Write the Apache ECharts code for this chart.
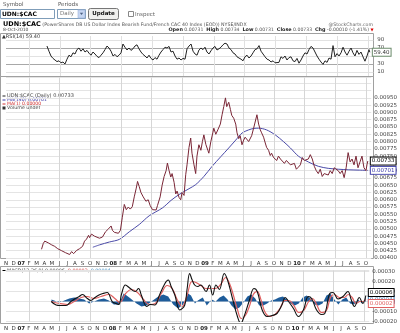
<!DOCTYPE html>
<html><head><meta charset="utf-8">
<script src="https://cdn.jsdelivr.net/npm/echarts@6/dist/echarts.min.js"></script>
<style>html,body{margin:0;padding:0;background:#fff}#c{width:400px;height:333px}</style>
</head><body><div id="c"></div>
<script>
// month index 0 = Nov 2006
const monthLabels = ['N','D','07','F','M','A','M','J','J','A','S','O','N','D','08','F','M','A','M','J','J','A','S','O','N','D','09','F','M','A','M','J','J','A','S','O','N','D','10','F','M','A','M','J','J','A','S','O'];
const gridMonths = [3,7,11,15,19,23,27,31,35,39,43,47];
const priceTicks = [0.004, 0.0095, 0.00025];
const macdTicks = [-0.0002, 0.0003, 0.0001];
const rsiLevels = [10,30,50,70,90];

const priceData = [[4.64,0.00430],[4.87,0.00450],[5.06,0.00458],[5.32,0.00464],[5.52,0.00452],[5.97,0.00445],[6.36,0.00440],[6.75,0.00432],[7.27,0.00425],[7.79,0.00418],[8.31,0.00412],[8.57,0.00422],[8.83,0.00415],[9.22,0.00426],[9.61,0.00432],[10.00,0.00440],[10.26,0.00458],[10.52,0.00465],[10.78,0.00478],[10.91,0.00470],[11.17,0.00482],[11.56,0.00475],[11.82,0.00480],[12.21,0.00468],[12.60,0.00472],[12.99,0.00490],[13.38,0.00500],[13.73,0.00510],[13.90,0.00495],[14.16,0.00488],[14.42,0.00492],[14.68,0.00485],[14.94,0.00495],[15.19,0.00540],[15.45,0.00584],[15.71,0.00566],[15.97,0.00575],[16.23,0.00568],[16.49,0.00576],[16.75,0.00610],[17.01,0.00640],[17.18,0.00663],[17.40,0.00645],[17.62,0.00625],[17.92,0.00610],[18.27,0.00595],[18.57,0.00600],[18.83,0.00580],[19.13,0.00566],[19.35,0.00572],[19.61,0.00565],[19.78,0.00580],[20.13,0.00610],[20.39,0.00650],[20.65,0.00680],[20.91,0.00700],[21.08,0.00726],[21.30,0.00700],[21.52,0.00678],[21.69,0.00690],[21.95,0.00660],[22.17,0.00620],[22.34,0.00630],[22.60,0.00608],[22.82,0.00600],[22.99,0.00625],[23.25,0.00615],[23.47,0.00686],[23.64,0.00720],[23.90,0.00780],[24.12,0.00812],[24.29,0.00760],[24.55,0.00720],[24.77,0.00690],[24.94,0.00750],[25.19,0.00789],[25.45,0.00770],[25.65,0.00800],[25.84,0.00823],[26.10,0.00790],[26.36,0.00770],[26.49,0.00760],[26.75,0.00800],[27.01,0.00830],[27.14,0.00846],[27.40,0.00825],[27.66,0.00840],[27.79,0.00835],[27.99,0.00860],[28.22,0.00892],[28.44,0.00920],[28.66,0.00950],[28.83,0.00920],[29.09,0.00935],[29.31,0.00910],[29.48,0.00890],[29.74,0.00880],[30.00,0.00860],[30.17,0.00830],[30.39,0.00810],[30.58,0.00820],[30.82,0.00789],[31.04,0.00805],[31.23,0.00815],[31.47,0.00820],[31.69,0.00800],[31.91,0.00805],[32.08,0.00820],[32.34,0.00846],[32.53,0.00850],[32.77,0.00892],[32.99,0.00860],[33.21,0.00840],[33.38,0.00830],[33.64,0.00815],[33.86,0.00795],[34.03,0.00780],[34.29,0.00770],[34.51,0.00752],[34.68,0.00760],[34.94,0.00745],[35.16,0.00740],[35.36,0.00735],[35.58,0.00750],[35.84,0.00740],[36.10,0.00745],[36.36,0.00725],[36.62,0.00735],[36.88,0.00740],[37.14,0.00720],[37.40,0.00715],[37.66,0.00725],[37.92,0.00705],[38.18,0.00712],[38.44,0.00720],[38.70,0.00745],[38.96,0.00735],[39.22,0.00730],[39.48,0.00740],[39.74,0.00755],[40.00,0.00740],[40.26,0.00715],[40.52,0.00700],[40.78,0.00690],[41.04,0.00705],[41.30,0.00680],[41.56,0.00690],[41.82,0.00695],[42.08,0.00685],[42.34,0.00700],[42.60,0.00690],[42.86,0.00710],[43.12,0.00705],[43.38,0.00700],[43.64,0.00690],[43.90,0.00700],[44.16,0.00676],[44.42,0.00710],[44.68,0.00762],[44.94,0.00730],[45.19,0.00740],[45.45,0.00720],[45.71,0.00750],[45.97,0.00710],[46.23,0.00730],[46.49,0.00750],[46.75,0.00710],[47.01,0.00700],[47.14,0.00720],[47.25,0.00733]];

const maData = [[11.34,0.00437],[12.21,0.00445],[13.51,0.00455],[14.81,0.00464],[16.10,0.00490],[17.40,0.00515],[18.70,0.00545],[20.43,0.00572],[21.56,0.00598],[22.60,0.00618],[23.90,0.00638],[24.77,0.00652],[25.84,0.00680],[26.92,0.00715],[28.05,0.00748],[29.09,0.00778],[30.00,0.00805],[30.82,0.00829],[31.69,0.00840],[32.34,0.00845],[32.99,0.00846],[34.03,0.00840],[35.16,0.00823],[36.23,0.00800],[37.14,0.00778],[38.18,0.00750],[39.48,0.00730],[40.78,0.00715],[42.08,0.00708],[43.38,0.00705],[44.68,0.00703],[45.97,0.00702],[47.25,0.00701]];

const rsiData = [[5.32,75],[5.58,62],[5.84,50],[6.10,44],[6.36,40],[6.62,36],[6.88,38],[7.14,33],[7.40,35],[7.66,30],[7.92,42],[8.18,52],[8.44,48],[8.70,58],[8.96,55],[9.22,66],[9.48,70],[9.74,62],[10.00,68],[10.26,60],[10.52,64],[10.78,57],[11.04,52],[11.30,60],[11.56,55],[11.82,49],[12.08,46],[12.34,52],[12.60,58],[12.86,66],[13.12,75],[13.38,70],[13.64,62],[13.90,50],[14.16,54],[14.42,48],[14.68,52],[14.94,58],[15.19,80],[15.45,72],[15.71,65],[15.97,70],[16.23,64],[16.49,68],[16.75,75],[17.01,78],[17.27,68],[17.53,60],[17.79,54],[18.05,50],[18.31,45],[18.57,52],[18.83,44],[19.09,40],[19.35,46],[19.61,42],[19.87,52],[20.13,60],[20.39,66],[20.65,72],[20.91,70],[21.17,74],[21.43,60],[21.69,62],[21.95,50],[22.21,42],[22.47,45],[22.73,40],[22.99,44],[23.25,42],[23.51,68],[23.77,75],[24.03,80],[24.29,62],[24.55,55],[24.81,52],[25.06,65],[25.32,70],[25.58,66],[25.84,72],[26.10,60],[26.36,55],[26.62,63],[26.88,70],[27.14,74],[27.40,65],[27.66,68],[27.92,72],[28.18,78],[28.44,82],[28.70,80],[28.96,70],[29.22,66],[29.48,58],[29.74,55],[30.00,48],[30.26,45],[30.52,42],[30.78,38],[31.04,48],[31.30,52],[31.56,45],[31.82,50],[32.08,58],[32.34,66],[32.60,68],[32.86,76],[33.12,62],[33.38,55],[33.64,48],[33.90,42],[34.16,40],[34.42,35],[34.68,38],[34.94,33],[35.19,36],[35.45,34],[35.71,48],[35.97,44],[36.23,50],[36.49,40],[36.75,46],[37.01,48],[37.27,38],[37.53,36],[37.79,44],[38.05,32],[38.31,40],[38.57,50],[38.83,58],[39.09,55],[39.35,66],[39.61,74],[39.87,70],[40.13,60],[40.39,50],[40.65,42],[40.91,35],[41.17,29],[41.43,38],[41.69,34],[41.95,45],[42.21,42],[42.47,76],[42.73,48],[42.99,56],[43.25,50],[43.51,58],[43.77,72],[44.03,60],[44.29,52],[44.55,62],[44.81,70],[45.06,58],[45.32,50],[45.58,64],[45.84,54],[46.10,60],[46.36,48],[46.62,37],[46.88,50],[47.14,66],[47.25,59.4]];

const macdData = [[5.94,0.0],[6.58,-0.000035],[7.14,-0.00004],[7.88,-0.00004],[8.53,0.0],[9.09,0.00003],[9.61,0.00005],[10.04,0.00007],[10.69,0.00003],[11.13,0.00001],[11.69,0.00004],[12.21,0.000065],[12.73,0.00008],[13.29,0.00009],[13.94,0.0],[14.42,-0.00002],[14.81,-0.00003],[15.19,0.00008],[15.68,0.000165],[16.32,0.00013],[16.97,0.0001],[17.40,0.00013],[17.79,0.00006],[18.48,-0.00005],[18.96,-0.00003],[19.57,-0.000035],[20.13,0.00006],[20.87,0.00018],[21.30,0.000215],[21.69,0.00015],[22.17,0.000065],[22.82,-0.000085],[23.47,-0.000035],[23.77,0.00012],[24.12,0.00028],[24.42,0.00022],[24.77,0.000165],[25.19,0.00015],[25.58,0.000165],[26.27,0.0001],[26.71,0.000165],[27.14,0.000065],[27.57,0.000165],[28.01,0.00012],[28.66,0.00028],[29.09,0.000215],[29.74,0.00003],[30.39,-0.00015],[30.82,-0.00022],[31.26,-0.00015],[31.91,0.0],[32.56,0.00013],[32.99,0.0001],[33.64,-0.000085],[34.29,-0.00015],[34.94,-0.00014],[35.58,-0.00012],[36.23,-0.000035],[36.66,0.00004],[37.10,0.0],[37.75,-0.00007],[38.40,-0.00015],[39.05,-0.000085],[39.70,0.00005],[40.13,0.00003],[40.78,-0.000085],[41.43,-0.00013],[41.86,-0.00012],[42.51,0.00008],[42.95,0.00009],[43.60,0.000025],[44.25,0.00005],[44.90,0.0001],[45.32,0.00002],[45.75,-0.00005],[46.40,0.00004],[46.84,-0.00002],[47.25,0.00006]];

const signalData = [[5.97,0.0],[7.01,-0.00002],[8.05,-0.00003],[8.96,0.0],[9.87,0.00004],[10.65,0.00005],[11.56,0.00003],[12.47,0.00005],[13.51,0.00007],[14.29,0.00003],[14.94,-0.00001],[15.71,0.00008],[16.49,0.00012],[17.27,0.00009],[18.05,0.00002],[18.83,-0.00003],[19.61,-0.00002],[20.39,0.00008],[21.17,0.00016],[21.82,0.00013],[22.47,0.00002],[23.12,-0.00005],[23.77,0.00006],[24.42,0.00020],[24.94,0.00019],[25.58,0.00016],[26.23,0.00013],[26.88,0.00013],[27.53,0.00013],[28.18,0.00017],[28.83,0.00024],[29.35,0.00018],[29.87,0.00006],[30.39,-0.00008],[30.91,-0.00017],[31.43,-0.00014],[31.95,-0.00005],[32.47,0.00007],[32.99,0.00010],[33.51,0.00001],[34.03,-0.00011],[34.68,-0.00015],[35.32,-0.00013],[35.97,-0.00007],[36.62,0.00001],[37.14,0.00001],[37.79,-0.00004],[38.44,-0.00011],[39.09,-0.00009],[39.74,0.0],[40.26,0.00003],[40.78,-0.00003],[41.43,-0.00011],[42.08,-0.00009],[42.60,0.00004],[43.12,0.00007],[43.77,0.00004],[44.42,0.00004],[44.94,0.00007],[45.45,0.00004],[45.97,-0.00002],[46.49,0.0],[46.88,0.0],[47.25,0.00002]];

const histData = [[5.97,0.00002],[7.01,-0.00001],[7.66,0.00001],[8.31,0.00003],[8.96,0.00004],[9.61,0.00003],[10.26,0.00002],[10.91,-0.00002],[11.56,0],[12.21,0.00002],[12.86,0.00003],[13.51,0.00001],[14.16,-0.00003],[14.81,-0.00003],[15.45,0.00008],[15.84,0.00006],[16.36,0.00003],[17.14,-0.00002],[17.79,-0.00005],[18.44,-0.00004],[19.09,0],[20.00,0.00005],[20.65,0.00007],[21.30,0.00005],[21.95,-0.00003],[22.60,-0.00007],[23.25,-0.00003],[23.90,0.00008],[24.29,0.00006],[24.81,-0.00002],[25.19,0.00001],[25.84,0.00004],[26.36,-0.00004],[27.01,0.00002],[27.53,0],[28.05,0.00004],[28.57,0.00006],[29.09,0.00002],[29.61,-0.00004],[30.13,-0.00008],[30.65,-0.00006],[31.17,-0.00001],[31.69,0.00005],[32.21,0.00007],[32.73,0.00003],[33.25,-0.00004],[33.77,-0.00004],[34.29,-0.00002],[34.81,0.00001],[35.32,0.00002],[35.84,0.00004],[36.36,0.00005],[36.88,0.00002],[37.40,-0.00002],[37.92,-0.00004],[38.44,-0.00002],[38.96,0.00004],[39.48,0.00006],[40.00,0.00003],[40.52,-0.00003],[41.04,-0.00004],[41.56,-0.00002],[42.08,0.00006],[42.60,0.00008],[43.12,0.00002],[43.64,-0.00003],[44.16,0.00002],[44.68,0.00004],[45.19,-0.00002],[45.71,-0.00003],[46.23,0.00002],[46.75,-0.00002],[47.25,0.00004]];

const FONT = 'DejaVu Sans';
const chart = echarts.init(document.getElementById('c'), null, {renderer:'canvas'});

const L = 6, W = 367.3, XMAX = 47.7;
function xAx(idx, showLabels, margin) {
  return {
    type:'value', gridIndex:idx, min:0, max:XMAX, interval:1,
    axisLine:{show:false}, axisTick:{show:false}, splitLine:{show:false},
    axisLabel:{show:showLabels, margin:margin, fontSize:5.5, fontFamily:FONT, color:'#333', hideOverlap:false,
      formatter:(v)=>{const s=monthLabels[v]; if(s===undefined) return ''; return /\d/.test(s)?'{y|'+s+'}':s;},
      rich:{y:{fontWeight:'bold', fontSize:5.5, fontFamily:FONT, color:'#222'}}}
  };
}
const vLines = {silent:true, symbol:['none','none'], label:{show:false}, animation:false,
  lineStyle:{color:'#d6d6d6', type:'solid', width:1}, data: gridMonths.map(m=>({xAxis:m}))};

function boxLabel(border, color, digits, dy) {
  return {show:true, distance:3, offset:[0,dy||0], fontSize:5.5, fontFamily:FONT, color:color, backgroundColor:'#fff',
    borderColor:border, borderWidth:1, padding:[1,1,0,1],
    formatter:(p)=>Number(p.value[1]).toFixed(digits)};
}

const rsiMarks = rsiLevels.map(v=>({yAxis:v, lineStyle:{color:(v===30||v===70)?'#a8a8a8':'#e2e2e2', width:1, type:'solid'}}));

function t(x,y,text,o){return {type:'text', x:x, y:y, silent:true, style:Object.assign({text:text, font:'5px '+FONT, fill:'#333', verticalAlign:'middle'}, o||{})};}

const option = {
  animation:false,
  backgroundColor:'#fff',
  grid:[
    {left:L, top:36, width:W, height:40},
    {left:L, top:77.5, width:W, height:180.5},
    {left:L, top:270.5, width:W, height:51}
  ],
  xAxis:[xAx(0,false,0), xAx(1,true,2.5), xAx(2,true,4)],
  yAxis:[
    {type:'value', gridIndex:0, position:'right', min:0, max:100, interval:10,
     axisLine:{show:false}, axisTick:{show:false}, splitLine:{show:false},
     axisLabel:{margin:4, fontSize:5.5, fontFamily:FONT, color:'#444', formatter:(v)=>(v===10||v===30||v===70||v===90)?String(v):''}},
    {type:'value', gridIndex:1, position:'right', min:priceTicks[0], max:0.0102, interval:priceTicks[2],
     axisLine:{show:false}, axisTick:{show:false},
     splitLine:{show:true, lineStyle:{color:'#e4e4e4', width:1}},
     axisLabel:{margin:3, fontSize:5.5, fontFamily:FONT, color:'#444', formatter:(v)=>v<=priceTicks[1]+1e-7?v.toFixed(5):''}},
    {type:'value', gridIndex:2, position:'right', min:macdTicks[0], max:0.00031, interval:macdTicks[2],
     axisLine:{show:false}, axisTick:{show:false},
     splitLine:{show:true, lineStyle:{color:'#e4e4e4', width:1}},
     axisLabel:{margin:3, fontSize:5.5, fontFamily:FONT, color:'#444', formatter:(v)=>v<=macdTicks[1]+1e-8?v.toFixed(5):''}}
  ],
  series:[
    {type:'line', xAxisIndex:0, yAxisIndex:0, data:rsiData, showSymbol:false, symbol:'none',
     lineStyle:{color:'#222', width:1}, z:5,
     markLine:{silent:true, symbol:['none','none'], label:{show:false}, animation:false, data: rsiMarks.concat(gridMonths.map(m=>({xAxis:m, lineStyle:{color:'#e0e0e0', width:1, type:'solid'}})))},
     endLabel:boxLabel('#6a8a6a','#333',2)},
    {type:'line', xAxisIndex:1, yAxisIndex:1, data:priceData, showSymbol:false, symbol:'none',
     lineStyle:{color:'#7a2636', width:1}, z:5, markLine:vLines,
     endLabel:boxLabel('#000','#000',5)},
    {type:'line', xAxisIndex:1, yAxisIndex:1, data:maData, showSymbol:false, symbol:'none', smooth:0.3,
     lineStyle:{color:'#4a4aa8', width:1}, z:4,
     endLabel:boxLabel('#3a3aa8','#3a3aa8',5)},
    {type:'line', xAxisIndex:2, yAxisIndex:2, data:histData, showSymbol:false, symbol:'none',
     lineStyle:{width:0, color:'#1e5c9a'}, areaStyle:{color:'#1e5c9a', opacity:1}, z:3, markLine:vLines,
     endLabel:boxLabel('#3a7ab8','#3a7ab8',5,2)},
    {type:'line', xAxisIndex:2, yAxisIndex:2, data:signalData, showSymbol:false, symbol:'none', smooth:0.4,
     lineStyle:{color:'#e06060', width:1.2}, z:4,
     endLabel:boxLabel('#e06060','#e06060',5,4)},
    {type:'line', xAxisIndex:2, yAxisIndex:2, data:macdData, showSymbol:false, symbol:'none', smooth:0.4,
     lineStyle:{color:'#111', width:1.1}, z:5,
     endLabel:boxLabel('#000','#000',5,-3)}
  ],
  graphic:[
    {type:'rect', shape:{x:0.5, y:33.5, width:373, height:43}, style:{fill:'none', stroke:'#a0a0a0', lineWidth:1}, silent:true, z:-1},
    {type:'rect', shape:{x:0.5, y:76.5, width:373, height:182}, style:{fill:'none', stroke:'#a0a0a0', lineWidth:1}, silent:true, z:-1},
    {type:'rect', shape:{x:0.5, y:266.5, width:373, height:57}, style:{fill:'none', stroke:'#a0a0a0', lineWidth:1}, silent:true, z:-1},
    t(3,4.5,'Symbol',{font:'5.5px '+FONT, fill:'#555'}),
    t(58,4.5,'Periods',{font:'5.5px '+FONT, fill:'#555'}),
    {type:'rect', shape:{x:0.5, y:9.5, width:54, height:9}, style:{fill:'#fff', stroke:'#7f9db9', lineWidth:1}, silent:true},
    t(2,14,'UDN:$CAC',{font:'bold 6px '+FONT, fill:'#000'}),
    {type:'rect', shape:{x:57.5, y:9.5, width:28, height:9}, style:{fill:'#fff', stroke:'#7f9db9', lineWidth:1}, silent:true},
    t(60,14,'Daily',{font:'5.5px '+FONT, fill:'#777'}),
    {type:'rect', shape:{x:78, y:10, width:7, height:8}, style:{fill:'#c6d6f2', stroke:'#9fb4da', lineWidth:0.6}, silent:true},
    {type:'polygon', shape:{points:[[79.8,12.8],[83.2,12.8],[81.5,15]]}, style:{fill:'#4d6185'}, silent:true},
    {type:'rect', shape:{x:88.5, y:8.5, width:30, height:11, r:2}, style:{fill:'#f0f0ee', stroke:'#777', lineWidth:1}, silent:true},
    t(103.5,14,'Update',{font:'bold 5.5px '+FONT, fill:'#111', align:'center'}),
    {type:'rect', shape:{x:128.5, y:11.5, width:5, height:5}, style:{fill:'#fff', stroke:'#888', lineWidth:1}, silent:true},
    t(135,14.5,'Inspect',{font:'5.5px '+FONT, fill:'#666'}),
    {type:'text', x:3, y:24.5, silent:true, style:{text:'{b|UDN:$CAC} (PowerShares DB US Dollar Index Bearish Fund/French CAC 40 Index (EOD)) NYSE/INDX', font:'4.7px '+FONT, fill:'#555', verticalAlign:'middle', rich:{b:{font:'bold 6.5px '+FONT, fill:'#000'}}}},
    t(373,24.5,'@StockCharts.com',{font:'4.7px '+FONT, fill:'#666', align:'right'}),
    t(3,30,'8-Oct-2010',{font:'4.5px '+FONT, fill:'#444'}),
    {type:'text', x:369, y:30, silent:true, style:{text:'{b|Open} 0.00731  {b|High} 0.00734  {b|Low} 0.00731  {b|Close} 0.00733  {b|Chg} -0.00010 (-1.41%)', font:'4.6px '+FONT, fill:'#555', align:'right', verticalAlign:'middle', rich:{b:{font:'bold 4.9px '+FONT, fill:'#222'}}}},
    t(370.5,30,'\u25BC',{font:'4px '+FONT, fill:'#d00'}),
    t(2,37,'\u25B2RSI(14) 59.40',{font:'5px '+FONT, fill:'#333'}),
    {type:'line', shape:{x1:2.5, y1:96, x2:5.5, y2:96}, style:{stroke:'#222', lineWidth:1}, silent:true},
    t(7,96,'UDN:$CAC (Daily) 0.00733',{font:'5px '+FONT, fill:'#444'}),
    {type:'line', shape:{x1:2.5, y1:100, x2:5.5, y2:100}, style:{stroke:'#3a3aa8', lineWidth:1}, silent:true},
    t(7,100,'MA(140) 0.00701',{font:'4.6px '+FONT, fill:'#3a3aa8'}),
    {type:'line', shape:{x1:2.5, y1:104, x2:5.5, y2:104}, style:{stroke:'#d03030', lineWidth:1}, silent:true},
    t(7,104,'MA(1) 0.00000',{font:'4.6px '+FONT, fill:'#d03030'}),
    {type:'rect', shape:{x:2.5, y:106.5, width:3, height:3}, style:{fill:'#333'}, silent:true},
    t(7,108,'Volume undef',{font:'4.8px '+FONT, fill:'#444'}),
    {type:'line', shape:{x1:2.5, y1:270.5, x2:5.5, y2:270.5}, style:{stroke:'#000', lineWidth:1}, silent:true},
    {type:'text', x:7, y:270.5, silent:true, style:{text:'MACD(12,26,9) 0.00006, {r|0.00002}, {c|0.00004}', font:'4.8px '+FONT, fill:'#444', verticalAlign:'middle', rich:{r:{fill:'#d04040', font:'4.8px '+FONT}, c:{fill:'#3a8ac0', font:'4.8px '+FONT}}}}
  ]
};
chart.setOption(option);
</script>
</body></html>
